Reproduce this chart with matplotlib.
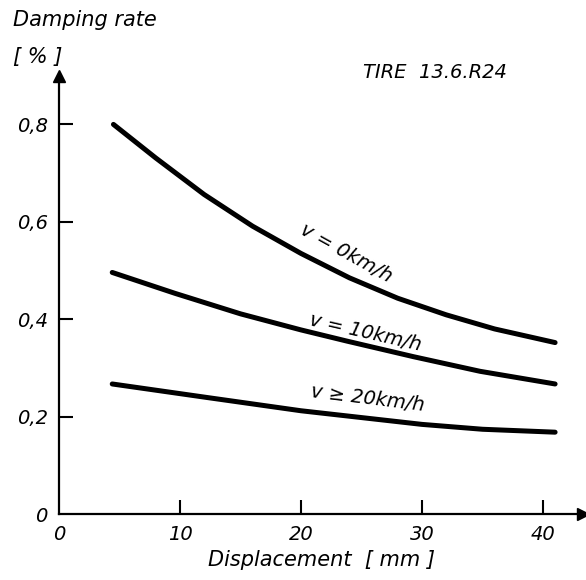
import matplotlib.pyplot as plt

# curves (displacement in mm, damping rate in %)
x_v0 = [4.5, 8, 12, 16, 20, 24, 28, 32, 36, 41]
y_v0 = [0.80, 0.731, 0.656, 0.591, 0.535, 0.485, 0.443, 0.409, 0.380, 0.352]

x_v10 = [4.4, 9.6, 15, 20, 23.8, 29.3, 34.8, 41]
y_v10 = [0.496, 0.453, 0.411, 0.378, 0.355, 0.323, 0.293, 0.267]

x_v20 = [4.4, 12.3, 20, 30, 35, 41]
y_v20 = [0.267, 0.239, 0.212, 0.184, 0.174, 0.168]

x_ticks = [0, 10, 20, 30, 40]
x_ticklabels = ['0', '10', '20', '30', '40']
y_ticks = [0, 0.2, 0.4, 0.6, 0.8]
y_ticklabels = ['0', '0,2', '0,4', '0,6', '0,8']

plt.rcParams['font.family'] = ['DejaVu Sans']
plt.rcParams['font.style'] = 'italic'

W, H = 586, 580
fig = plt.figure(figsize=(W / 100, H / 100), dpi=100)
left, right, bottom, top = 59, 583, 514, 76
ax = fig.add_axes([left / W, 1 - bottom / H, (right - left) / W, (bottom - top) / H])

ax.set_xlim(0, (right - left) / 12.1)
ax.set_ylim(0, (bottom - top) / 487)

lw = 3.6
ax.plot(x_v0, y_v0, color='black', lw=lw, solid_capstyle='round', solid_joinstyle='round')
ax.plot(x_v10, y_v10, color='black', lw=lw, solid_capstyle='round', solid_joinstyle='round')
ax.plot(x_v20, y_v20, color='black', lw=lw, solid_capstyle='round', solid_joinstyle='round')

for s in ['top', 'right']:
    ax.spines[s].set_visible(False)
for s in ['left', 'bottom']:
    ax.spines[s].set_linewidth(1.6)

# arrow heads at the axis ends
ax.plot(1, 0, '>', color='black', ms=8, transform=ax.transAxes, clip_on=False)
ax.plot(0, 1, '^', color='black', ms=8, transform=ax.transAxes, clip_on=False)

ax.set_xticks(x_ticks)
ax.set_xticklabels(x_ticklabels)
ax.set_yticks(y_ticks)
ax.set_yticklabels(y_ticklabels)
ax.tick_params(direction='in', length=10, width=1.5, labelsize=14, pad=8)
ax.xaxis.get_major_ticks()[0].tick1line.set_visible(False)
ax.yaxis.get_major_ticks()[0].tick1line.set_visible(False)

ax.set_xlabel('Displacement  [ mm ]', fontsize=15, labelpad=4)

fig.text(13 / W, 1 - 20 / H, 'Damping rate', fontsize=15, va='center', ha='left')
fig.text(13 / W, 1 - 57 / H, '[ % ]', fontsize=15, va='center', ha='left')
fig.text(435 / W, 1 - 72 / H, 'TIRE  13.6.R24', fontsize=14, va='center', ha='center')

ax.text(23.7, 0.535, 'v = 0km/h', fontsize=14, rotation=-29, ha='center', va='center')
ax.text(25.3, 0.372, 'v = 10km/h', fontsize=14, rotation=-13, ha='center', va='center')
ax.text(25.5, 0.238, 'v ≥ 20km/h', fontsize=14, rotation=-7, ha='center', va='center')

fig.savefig('out.png', dpi=100)
